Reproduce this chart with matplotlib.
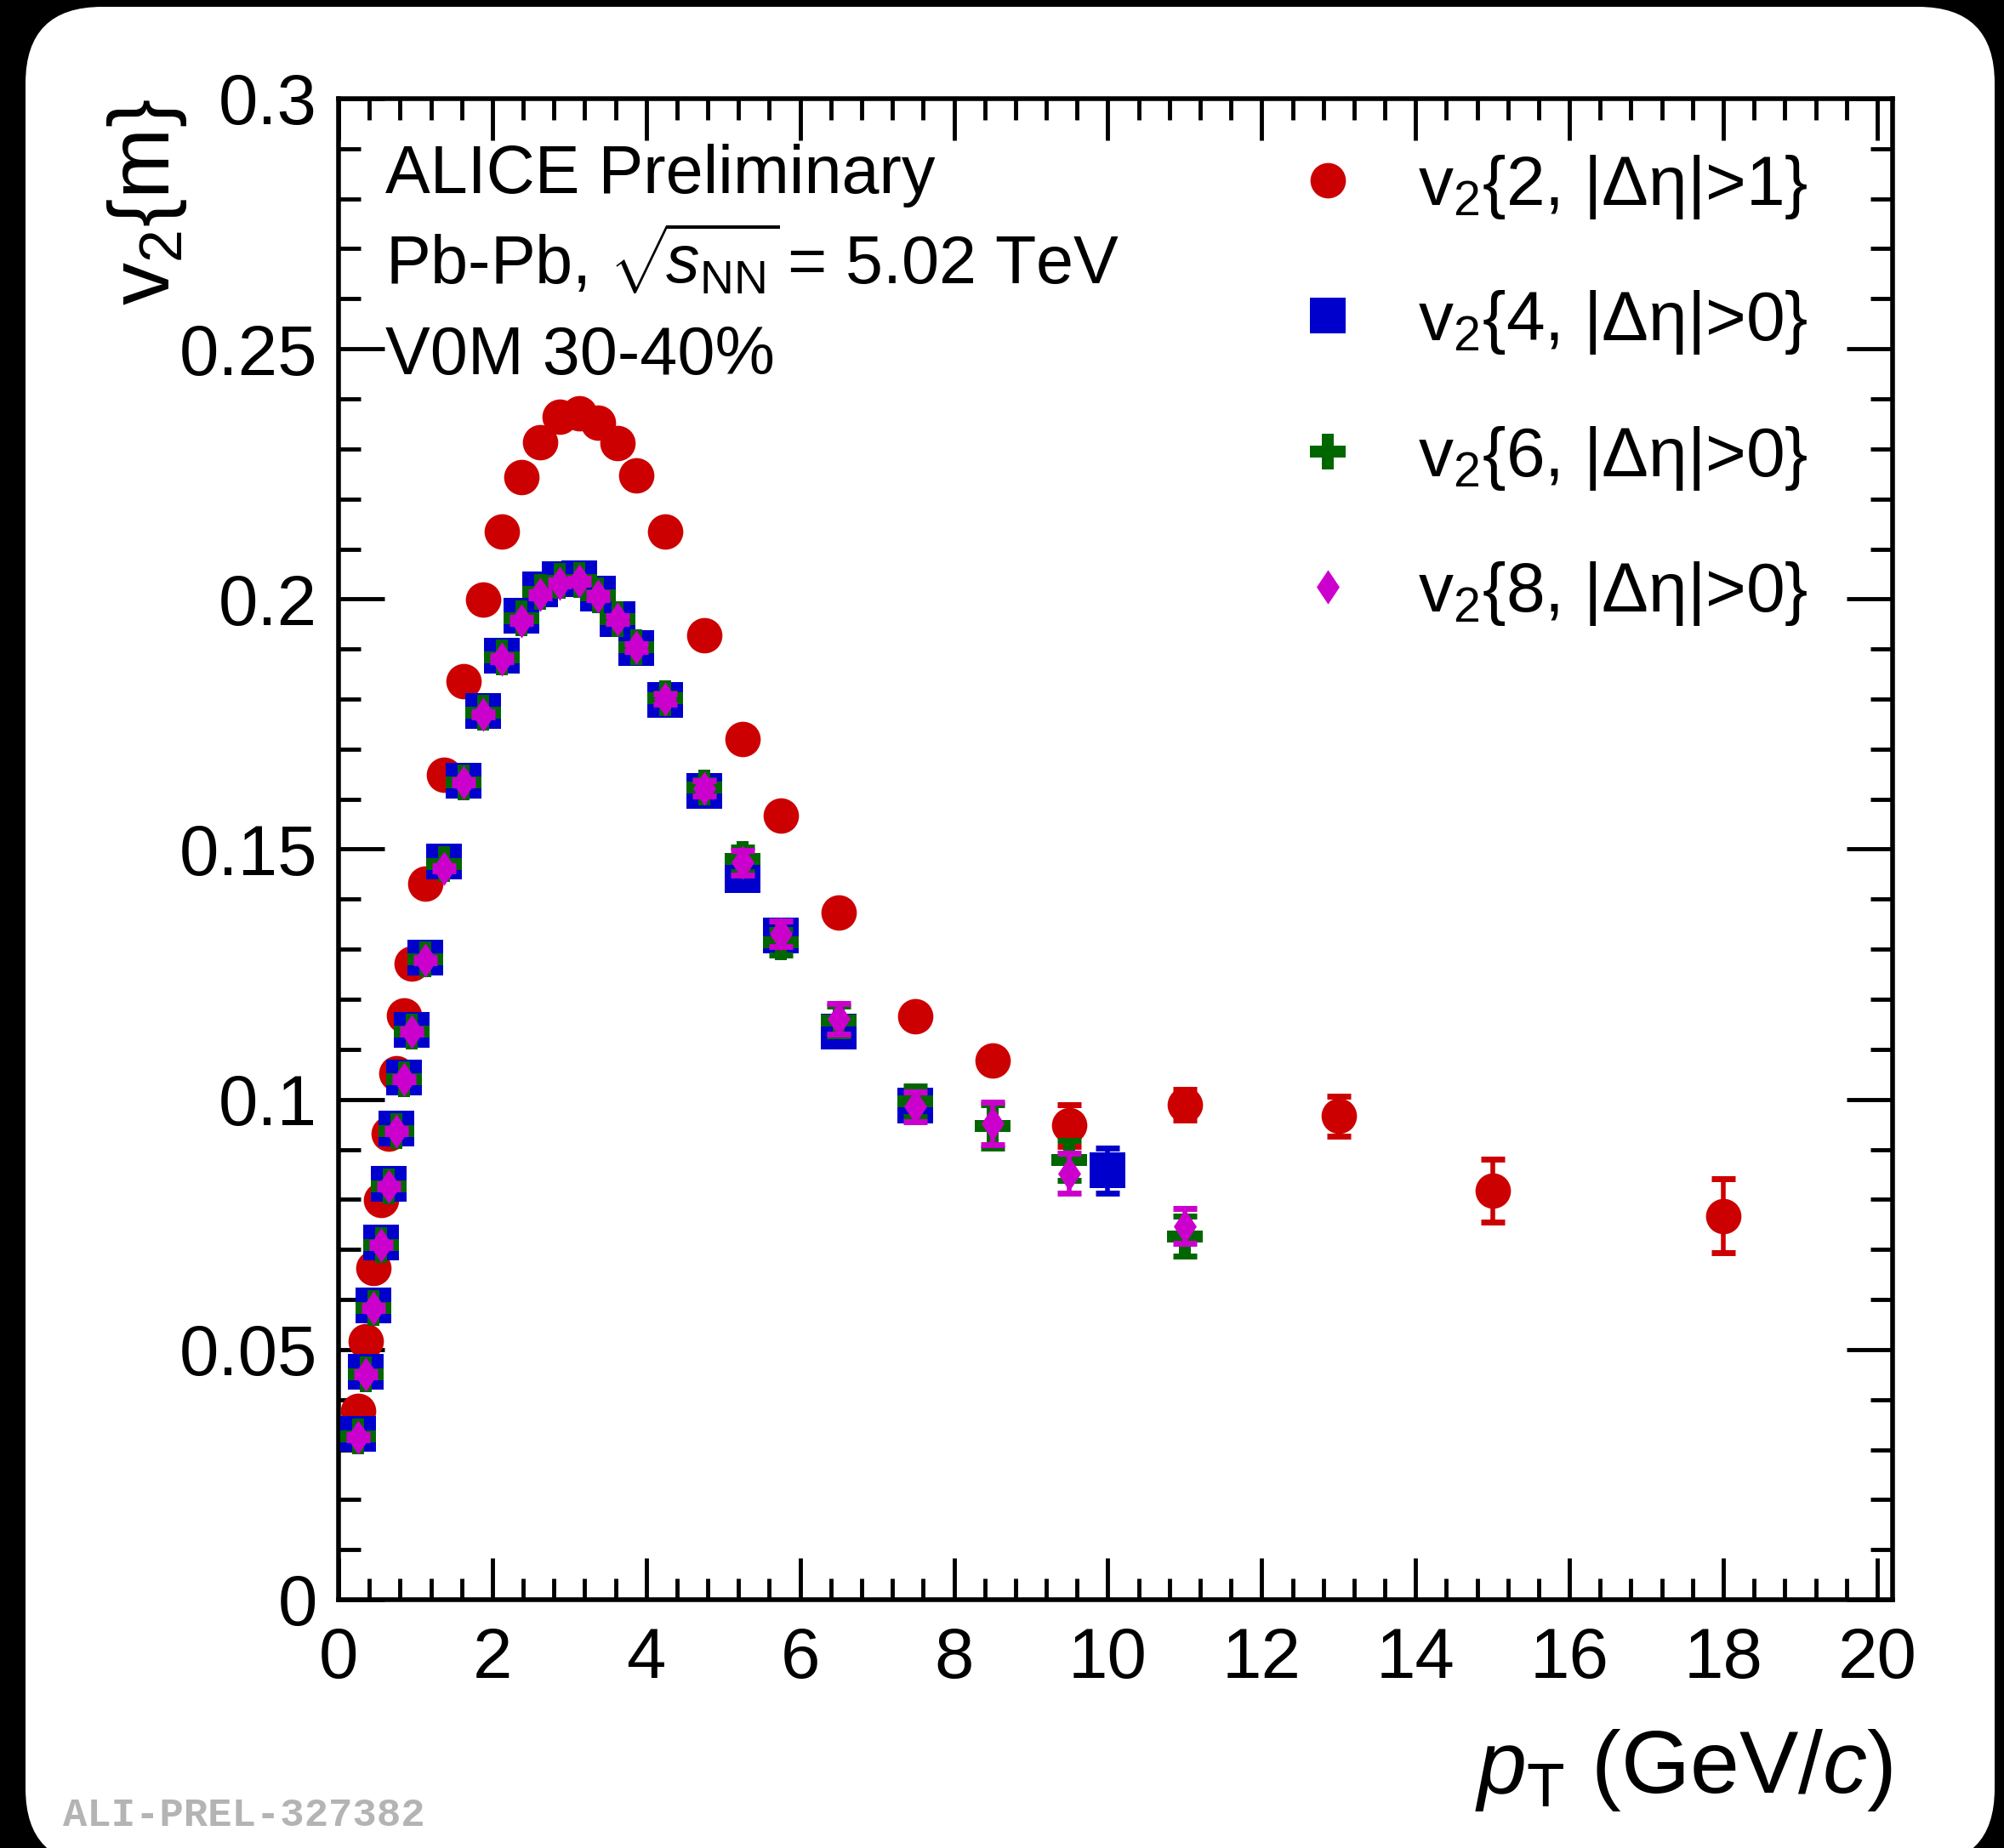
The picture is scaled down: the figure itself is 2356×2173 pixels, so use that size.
import matplotlib
matplotlib.use("Agg")
import matplotlib.pyplot as plt
from matplotlib.patches import FancyBboxPatch
from matplotlib.path import Path
from matplotlib.ticker import MultipleLocator, FuncFormatter
from matplotlib.transforms import Affine2D

plt.rcParams['font.family'] = ['Liberation Sans', 'DejaVu Sans']
plt.rcParams['mathtext.fontset'] = 'custom'
plt.rcParams['mathtext.rm'] = 'Liberation Sans'
plt.rcParams['mathtext.it'] = 'Liberation Sans:italic'
plt.rcParams['mathtext.bf'] = 'Liberation Sans:bold'

# v2{2, |deta|>1}
pt_2 = [0.25, 0.35, 0.45, 0.55, 0.65, 0.75, 0.85, 0.95, 1.125, 1.375, 1.625, 1.875,
        2.125, 2.375, 2.625, 2.875, 3.125, 3.375, 3.625, 3.875, 4.25, 4.75, 5.25, 5.75,
        6.5, 7.5, 8.5, 9.5, 11.0, 13.0, 15.0, 18.0]
v2_2 = [0.0378, 0.0516, 0.0663, 0.0799, 0.0931, 0.1052, 0.1167, 0.1272, 0.1432, 0.1649,
        0.1836, 0.1999, 0.2134, 0.2243, 0.2313, 0.2364, 0.2371, 0.2352, 0.2312, 0.2247,
        0.2134, 0.1928, 0.1720, 0.1567, 0.1373, 0.1166, 0.1078, 0.0948, 0.0989, 0.0967,
        0.0818, 0.0767]
err_2 = [0.0003, 0.0003, 0.0003, 0.0003, 0.0003, 0.0003, 0.0003, 0.0003, 0.0003, 0.0003,
         0.0003, 0.0003, 0.0003, 0.0003, 0.0003, 0.0003, 0.0003, 0.0003, 0.0004, 0.0004,
         0.0004, 0.0005, 0.0008, 0.0008, 0.0010, 0.0015, 0.0020, 0.0042, 0.0030, 0.0040,
         0.0063, 0.0074]

# v2{4, |deta|>0}
pt_4 = [0.25, 0.35, 0.45, 0.55, 0.65, 0.75, 0.85, 0.95, 1.125, 1.375, 1.625, 1.875,
        2.125, 2.375, 2.625, 2.875, 3.125, 3.375, 3.625, 3.875, 4.25, 4.75, 5.25, 5.75,
        6.5, 7.5, 10.0]
v2_4 = [0.0331, 0.0456, 0.0588, 0.0714, 0.0831, 0.0941, 0.1044, 0.1139, 0.1283, 0.1475,
        0.1637, 0.1776, 0.1887, 0.1967, 0.2019, 0.2040, 0.2041, 0.2011, 0.1960, 0.1902,
        0.1798, 0.1617, 0.1449, 0.1328, 0.1135, 0.0988, 0.0858]
err_4 = [0.0004, 0.0004, 0.0004, 0.0004, 0.0004, 0.0004, 0.0004, 0.0004, 0.0004, 0.0004,
         0.0004, 0.0004, 0.0005, 0.0005, 0.0005, 0.0005, 0.0005, 0.0006, 0.0006, 0.0007,
         0.0008, 0.0010, 0.0012, 0.0015, 0.0020, 0.0025, 0.0045]

# v2{6, |deta|>0}
pt_6 = [0.25, 0.35, 0.45, 0.55, 0.65, 0.75, 0.85, 0.95, 1.125, 1.375, 1.625, 1.875,
        2.125, 2.375, 2.625, 2.875, 3.125, 3.375, 3.625, 3.875, 4.25, 4.75, 5.25, 5.75,
        6.5, 7.5, 8.5, 9.5, 11.0]
v2_6 = [0.0326, 0.0451, 0.0583, 0.0709, 0.0826, 0.0937, 0.1040, 0.1135, 0.1280, 0.1470,
        0.1633, 0.1772, 0.1883, 0.1962, 0.2014, 0.2036, 0.2038, 0.2008, 0.1960, 0.1903,
        0.1802, 0.1624, 0.1480, 0.1314, 0.1157, 0.0996, 0.0946, 0.0878, 0.0726]
err_6 = [0.0005, 0.0005, 0.0005, 0.0005, 0.0005, 0.0005, 0.0005, 0.0005, 0.0005, 0.0005,
         0.0005, 0.0005, 0.0006, 0.0006, 0.0006, 0.0006, 0.0006, 0.0007, 0.0007, 0.0008,
         0.0010, 0.0015, 0.0025, 0.0025, 0.0030, 0.0030, 0.0043, 0.0040, 0.0040]

# v2{8, |deta|>0}
pt_8 = [0.25, 0.35, 0.45, 0.55, 0.65, 0.75, 0.85, 0.95, 1.125, 1.375, 1.625, 1.875,
        2.125, 2.375, 2.625, 2.875, 3.125, 3.375, 3.625, 3.875, 4.25, 4.75, 5.25, 5.75,
        6.5, 7.5, 8.5, 9.5, 11.0]
v2_8 = [0.0324, 0.0451, 0.0583, 0.0709, 0.0826, 0.0937, 0.1040, 0.1135, 0.1278, 0.1462,
        0.1633, 0.1770, 0.1880, 0.1957, 0.2009, 0.2032, 0.2036, 0.2006, 0.1959, 0.1903,
        0.1800, 0.1622, 0.1473, 0.1331, 0.1161, 0.0985, 0.0952, 0.0852, 0.0747]
err_8 = [0.0005, 0.0005, 0.0005, 0.0005, 0.0005, 0.0005, 0.0005, 0.0005, 0.0005, 0.0005,
         0.0005, 0.0005, 0.0006, 0.0006, 0.0006, 0.0006, 0.0006, 0.0007, 0.0007, 0.0008,
         0.0010, 0.0015, 0.0025, 0.0025, 0.0030, 0.0030, 0.0042, 0.0040, 0.0035]

labels = [r"$\mathrm{v}_{2}$" + "{2, |Δη|>1}",
          r"$\mathrm{v}_{2}$" + "{4, |Δη|>0}",
          r"$\mathrm{v}_{2}$" + "{6, |Δη|>0}",
          r"$\mathrm{v}_{2}$" + "{8, |Δη|>0}"]

W, H = 2356, 2173
fig = plt.figure(figsize=(W / 100, H / 100), dpi=100, facecolor="black")

# white rounded panel (pixel coordinates)
px = Affine2D().scale(1.0 / W, 1.0 / H) + fig.transFigure
panel = FancyBboxPatch((30, -20), 2315, 2185, boxstyle="round,pad=0,rounding_size=90",
                       transform=px, facecolor="white", edgecolor="none", zorder=-5)
fig.patches.append(panel)

ax = fig.add_axes([398 / W, (H - 1881) / H, 1827 / W, 1765 / H])
ax.set_zorder(2)
ax.set_facecolor("white")

thin_diamond = Path([(0, 1), (0.67, 0), (0, -1), (-0.67, 0), (0, 1)],
                    [Path.MOVETO, Path.LINETO, Path.LINETO, Path.LINETO, Path.CLOSEPOLY])

series = [
    (pt_2, v2_2, err_2, "o", "#cc0000", 30),
    (pt_4, v2_4, err_4, "s", "#0000cc", 30),
    (pt_6, v2_6, err_6, "P", "#006600", 30),
    (pt_8, v2_8, err_8, thin_diamond, "#cc00cc", 29),
]
handles = []
for i, (x, y, e, m, c, ms) in enumerate(series):
    ax.errorbar(x, y, yerr=e, fmt="none", ecolor=c, elinewidth=4,
                capsize=10, capthick=5, zorder=3 + i)
    ln, = ax.plot(x, y, linestyle="none", marker=m, color=c, markersize=ms,
                  markeredgewidth=0, zorder=3 + i)
    handles.append(ln)

ax.set_xlim(0, 20.2)
ax.set_ylim(0, 0.3)
ax.xaxis.set_major_locator(MultipleLocator(2))
ax.xaxis.set_minor_locator(MultipleLocator(0.4))
ax.yaxis.set_major_locator(MultipleLocator(0.05))
ax.yaxis.set_minor_locator(MultipleLocator(0.01))
ax.yaxis.set_major_formatter(FuncFormatter(lambda v, p: f"{v:g}"))
ax.xaxis.set_major_formatter(FuncFormatter(lambda v, p: f"{v:g}"))

for s in ax.spines.values():
    s.set_linewidth(4)
ax.tick_params(which="both", direction="in", top=True, right=True, width=3.5)
ax.tick_params(axis="x", which="major", length=35, labelsize=60, pad=22)
ax.tick_params(axis="x", which="minor", length=18)
ax.tick_params(axis="y", which="major", length=39, labelsize=60, pad=18)
ax.tick_params(axis="y", which="minor", length=19)

ax.set_xlabel(r"$p_{\mathrm{T}}$ (GeV/$c$)", fontsize=75, loc="right")
ax.xaxis.set_label_coords(1.0, -0.1286)
ax.xaxis.label.set_verticalalignment("baseline")
ax.set_ylabel(r"$\mathrm{v}_{2}$" + "{m}", fontsize=72, loc="top")
ax.yaxis.set_label_coords(-0.0965, 1.0)

ax.text(453 / W, 1 - 227 / H, "ALICE Preliminary", fontsize=57, va="baseline",
        transform=fig.transFigure)
ax.text(453 / W, 1 - 333 / H, r"Pb-Pb, $\sqrt{\!s_{\mathrm{NN}}}\!$ = 5.02 TeV",
        fontsize=57, va="baseline", transform=fig.transFigure)
ax.text(453 / W, 1 - 440 / H, "V0M 30-40%", fontsize=57, va="baseline",
        transform=fig.transFigure)

ax.legend(handles, labels, loc="upper left", bbox_to_anchor=(0.614, 0.964),
          frameon=False, fontsize=59, handlelength=1.0, handletextpad=0.8,
          labelspacing=0.97, borderaxespad=0, borderpad=0, numpoints=1)

fig.text(74 / W, (H - 2147) / H, "ALI-PREL-327382", fontsize=34,
         family="Liberation Mono", weight="bold", color="#b4b4b4", va="baseline")

fig.savefig("out.png", dpi=100, facecolor="black")
